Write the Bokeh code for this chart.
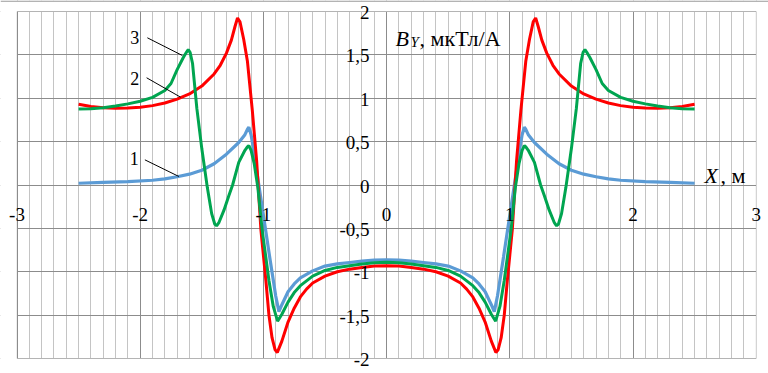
from bokeh.plotting import figure
from bokeh.models import Range1d, Grid, FixedTicker, Label, BoxAnnotation
from bokeh.embed import file_html
from bokeh.resources import INLINE

# ---- data ----
# curve 1 (blue)
x1 = [-2.5, -2.3, -2.1, -1.9, -1.8, -1.7, -1.6, -1.5, -1.4, -1.3, -1.2, -1.15, -1.13, -1.118, -1.1,
      -1.075, -1.05, -1.0, -0.95, -0.9, -0.874, -0.85, -0.8, -0.75, -0.7, -0.6, -0.5, -0.4, -0.3, -0.2,
      -0.1, 0.0,
      0.1, 0.2, 0.3, 0.4, 0.5, 0.6, 0.7, 0.75, 0.8, 0.85, 0.874, 0.9, 0.95, 1.0, 1.05, 1.075, 1.1,
      1.118, 1.13, 1.15, 1.2, 1.3, 1.4, 1.5, 1.6, 1.7, 1.8, 1.9, 2.1, 2.3, 2.5]
y1 = [0.02, 0.03, 0.04, 0.055, 0.07, 0.095, 0.125, 0.17, 0.245, 0.355, 0.49, 0.58, 0.64, 0.666, 0.58,
      0.37, 0.12, -0.35, -0.82, -1.28, -1.46, -1.38, -1.23, -1.14, -1.07, -0.99, -0.935, -0.91, -0.893, -0.878,
      -0.867, -0.862,
      -0.867, -0.878, -0.893, -0.91, -0.935, -0.99, -1.07, -1.14, -1.23, -1.38, -1.46, -1.28, -0.82, -0.35, 0.12, 0.37, 0.58,
      0.666, 0.64, 0.58, 0.49, 0.355, 0.245, 0.17, 0.125, 0.095, 0.07, 0.055, 0.04, 0.03, 0.02]

# curve 2 (red)
x2 = [-2.5, -2.4, -2.3, -2.2, -2.1, -2.0, -1.9, -1.8, -1.7, -1.6, -1.5, -1.4, -1.35, -1.3, -1.26, -1.23,
      -1.21, -1.19, -1.16, -1.13, -1.09, -1.055, -1.02, -0.98, -0.955, -0.93, -0.905, -0.887, -0.85, -0.8,
      -0.75, -0.7, -0.65, -0.6, -0.5, -0.4, -0.3, -0.2, -0.1, 0.0,
      0.1, 0.2, 0.3, 0.4, 0.5, 0.6, 0.65, 0.7, 0.75, 0.8, 0.85, 0.887, 0.905, 0.93, 0.955, 0.98, 1.02,
      1.055, 1.09, 1.13, 1.16, 1.19, 1.21, 1.23, 1.26, 1.3, 1.35, 1.4, 1.5, 1.6, 1.7, 1.8, 1.9, 2.0, 2.1,
      2.2, 2.3, 2.4, 2.5]
y2 = [0.93, 0.905, 0.89, 0.885, 0.887, 0.895, 0.915, 0.945, 0.99, 1.05, 1.14, 1.28, 1.38, 1.52, 1.67, 1.83,
      1.925, 1.88, 1.68, 1.43, 0.86, 0.28, -0.52, -1.10, -1.50, -1.76, -1.90, -1.93, -1.80, -1.58,
      -1.42, -1.29, -1.20, -1.13, -1.05, -1.00, -0.97, -0.95, -0.935, -0.93,
      -0.935, -0.95, -0.97, -1.00, -1.05, -1.13, -1.20, -1.29, -1.42, -1.58, -1.80, -1.93, -1.90, -1.76, -1.50, -1.10, -0.52,
      0.28, 0.86, 1.43, 1.68, 1.88, 1.925, 1.83, 1.67, 1.52, 1.38, 1.28, 1.14, 1.05, 0.99, 0.945, 0.915, 0.895, 0.887,
      0.885, 0.89, 0.905, 0.93]

# curve 3 (green)
x3 = [-2.5, -2.4, -2.3, -2.2, -2.1, -2.0, -1.9, -1.8, -1.75, -1.7, -1.65, -1.625, -1.61, -1.595, -1.575,
      -1.54, -1.5, -1.455, -1.42, -1.395, -1.38, -1.36, -1.32, -1.28, -1.25, -1.2, -1.15, -1.13, -1.118, -1.1,
      -1.075, -1.045, -1.01, -0.955, -0.92, -0.885, -0.85, -0.8, -0.75, -0.7, -0.6, -0.5, -0.4, -0.3, -0.2,
      -0.1, 0.0,
      0.1, 0.2, 0.3, 0.4, 0.5, 0.6, 0.7, 0.75, 0.8, 0.85, 0.885, 0.92, 0.955, 1.01, 1.045, 1.075, 1.1,
      1.118, 1.13, 1.15, 1.2, 1.25, 1.28, 1.32, 1.36, 1.38, 1.395, 1.42, 1.455, 1.5, 1.54, 1.575, 1.595,
      1.61, 1.625, 1.65, 1.7, 1.75, 1.8, 1.9, 2.0, 2.1, 2.2, 2.3, 2.4, 2.5]
y3 = [0.875, 0.878, 0.89, 0.91, 0.935, 0.965, 1.01, 1.09, 1.17, 1.33, 1.47, 1.53, 1.56, 1.53, 1.40,
      0.88, 0.42, -0.03, -0.33, -0.45, -0.47, -0.43, -0.29, -0.12, 0.0, 0.26, 0.40, 0.44, 0.455, 0.40,
      0.25, -0.03, -0.52, -1.10, -1.40, -1.57, -1.49, -1.35, -1.24, -1.16, -1.05, -0.985, -0.95, -0.93, -0.91,
      -0.897, -0.89,
      -0.897, -0.91, -0.93, -0.95, -0.985, -1.05, -1.16, -1.24, -1.35, -1.49, -1.57, -1.40, -1.10, -0.52, -0.03, 0.25, 0.40,
      0.455, 0.44, 0.40, 0.26, 0.0, -0.12, -0.29, -0.43, -0.47, -0.45, -0.33, -0.03, 0.42, 0.88, 1.40, 1.53,
      1.56, 1.53, 1.47, 1.33, 1.17, 1.09, 1.01, 0.965, 0.935, 0.91, 0.89, 0.878, 0.875]

x_ticks = [-3, -2, -1, 0, 1, 2, 3]
x_tick_labels = ["-3", "-2", "-1", "0", "1", "2", "3"]
y_ticks = [-2, -1.5, -1, -0.5, 0, 0.5, 1, 1.5, 2]
y_tick_labels = ["-2", "-1,5", "-1", "-0,5", "0", "0,5", "1", "1,5", "2"]
x_lo, x_hi = -3, 3
y_lo, y_hi = -2, 2

curve_names = ["1", "2", "3"]
name_x = [-2.048, -2.045, -2.045]
name_y = [0.305, 1.233, 1.695]
lead_x0 = [-1.962, -1.948, -1.942]
lead_y0 = [0.290, 1.236, 1.697]
lead_x1 = [-1.686, -1.672, -1.658]
lead_y1 = [0.098, 1.012, 1.493]

FONT = "Liberation Serif"
GRID_DARK = "#8c8c8c"
GRID_LIGHT = "#c4c4c4"

# frame fills the whole canvas; the plot box (-3..3, -2..2) sits at px 16.5..755.7 x 11..358
W, H = 768, 373
PX_L, PX_R, PX_T, PX_B = 16.5, 755.7, 11.0, 358.0
sx = (PX_R - PX_L) / (x_hi - x_lo)
sy = (PX_B - PX_T) / (y_hi - y_lo)
xr = Range1d(x_lo - PX_L / sx, x_hi + (W - PX_R) / sx)
yr = Range1d(y_lo - (H - PX_B) / sy, y_hi + PX_T / sy)

p = figure(width=W, height=H, x_range=xr, y_range=yr,
           output_backend="svg", toolbar_location=None,
           x_axis_location=None, y_axis_location=None,
           min_border_left=0, min_border_right=0, min_border_top=0, min_border_bottom=0)
p.background_fill_color = "white"
p.border_fill_color = "white"
p.outline_line_color = None
for g in list(p.grid):
    g.visible = False

x_minor = [round(-3 + 0.1 * i, 1) for i in range(61)]
xg = Grid(dimension=0, ticker=FixedTicker(ticks=x_ticks, minor_ticks=x_minor),
          grid_line_color=GRID_DARK, grid_line_width=1,
          minor_grid_line_color=GRID_LIGHT, minor_grid_line_width=1)
yg = Grid(dimension=1, ticker=FixedTicker(ticks=y_ticks),
          grid_line_color=GRID_DARK, grid_line_width=1)
p.add_layout(xg)
p.add_layout(yg)

# white masks outside the plot box, then the box outline
for kw in (dict(right=x_lo), dict(left=x_hi), dict(bottom=y_hi), dict(top=y_lo)):
    p.add_layout(BoxAnnotation(fill_color="white", fill_alpha=1, line_color=None,
                               level="underlay", **kw))
p.add_layout(BoxAnnotation(left=x_lo, right=x_hi, bottom=y_lo, top=y_hi, fill_alpha=0,
                           line_color=GRID_DARK, line_width=1, level="underlay"))
# thin chart-area border line at the very top of the picture
p.add_layout(BoxAnnotation(bottom=yr.end - 1.2 / sy, fill_color="#9a9a9a", fill_alpha=1,
                           line_color=None, level="underlay"))

p.line(x1, y1, line_color="#5B9BD5", line_width=3.2)
p.line(x2, y2, line_color="#FF0000", line_width=3)
p.line(x3, y3, line_color="#00A550", line_width=3)

p.segment(lead_x0, lead_y0, lead_x1, lead_y1, line_color="black", line_width=1)


def txt(x, y, t, size, **kw):
    p.add_layout(Label(x=x, y=y, text=t, text_font=FONT, text_font_size=size,
                       text_color="black", **kw))


for nx, ny, nt in zip(name_x, name_y, curve_names):
    txt(nx, ny, nt, "18px", text_align="center", text_baseline="middle")

for tx, tl in zip(x_ticks, x_tick_labels):
    txt(tx, 0, tl, "19px", text_align="center", text_baseline="middle", y_offset=-29)

for ty, tl in zip(y_ticks, y_tick_labels):
    txt(0, ty, tl, "19px", text_align="right", text_baseline="middle", x_offset=-17, y_offset=-1)

# axis titles
txt(0.073, 1.685, "B", "22px", text_font_style="italic", text_baseline="alphabetic")
txt(0.073, 1.685, "Y", "15px", text_font_style="italic", text_baseline="alphabetic",
    x_offset=15, y_offset=-3)
txt(0.073, 1.685, ", мкТл/А", "22px", text_baseline="alphabetic", x_offset=24)

txt(2.581, 0.11, "X", "22px", text_font_style="italic", text_baseline="alphabetic")
txt(2.581, 0.11, ", м", "22px", text_baseline="alphabetic", x_offset=16)

open("out.html", "w").write(file_html(p, INLINE))
